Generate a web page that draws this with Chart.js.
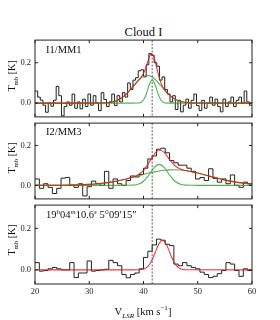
<!DOCTYPE html>
<html lang="en">
<head>
<meta charset="UTF-8" />
<title>Cloud I spectra</title>
<script src="https://cdn.jsdelivr.net/npm/chart.js"></script>
<style>
  * { margin: 0; padding: 0; box-sizing: border-box; }
  body {
    width: 280px; height: 320px; background: #fff;
    position: relative; overflow: hidden;
    font-family: 'Liberation Serif', 'DejaVu Serif', serif; color: #111;
  }
  canvas { position: absolute; left: 0; }
  .title { position: absolute; left: 35px; width: 217px; top: 25.5px; text-align: center; font-size: 12.5px; line-height: 1; }
  .tag { position: absolute; left: 46px; font-size: 10.5px; line-height: 1; white-space: nowrap; }
  .ylab, .xlab { position: absolute; font-size: 10px; line-height: 1; white-space: nowrap; }
  .ylab { left: 12px; transform: translate(-50%, -50%) rotate(-90deg); }
  .xlab { left: 143px; top: 312px; transform: translate(-50%, -50%); font-size: 10.5px; }
  sub, sup { font-size: 68%; line-height: 0; }
</style>
</head>
<body>
  <div class="title">Cloud I</div>

  <canvas id="p1" width="280" height="95" style="top:31px"></canvas>
  <canvas id="p2" width="280" height="94" style="top:114px"></canvas>
  <canvas id="p3" width="280" height="124" style="top:196px"></canvas>

  <div class="tag" style="top:44.5px">I1/MM1</div>
  <div class="tag" style="top:126.5px">I2/MM3</div>
  <div class="tag" style="top:209.5px">19<sup><i>h</i></sup>04<sup><i>m</i></sup>10.6<sup><i>s</i></sup> 5°09′15″</div>

  <div class="ylab" style="top:76px">T<sub>mb</sub> [K]</div>
  <div class="ylab" style="top:158px">T<sub>mb</sub> [K]</div>
  <div class="ylab" style="top:240px">T<sub>mb</sub> [K]</div>
  <div class="xlab">V<sub><i>LSR</i></sub> [km s<sup>−1</sup>]</div>

  <script>
    const X_MIN = 20, X_MAX = 60;
    const Y_MIN = -0.068, Y_MAX = 0.312;
    const X_TICKS = [20, 30, 40, 50, 60];
    const Y_TICKS = [0.0, 0.2];
    const V_REF = 41.6;

    // observed spectra: channel values from 20 km/s upward, fixed channel width
    const CHAN1 = 0.488;
    const SPEC1 = [0.06, 0.03, 0.015, -0.01, -0.045, 0, -0.015, 0.015, 0.083, 0.037,
      -0.063, -0.017, 0.006, -0.01, 0.045, -0.025, 0.006, -0.028, 0.02, -0.017,
      0.045, -0.01, 0.037, 0, -0.037, 0.052, 0.018, -0.017, 0.006, 0.045,
      -0.012, 0.037, 0.006, 0.052, 0.03, 0.1, 0.068, 0.114, 0.126, 0.16,
      0.165, 0.13, 0.19, 0.245, 0.237, 0.2, 0.183, 0.114, 0.13, 0.068,
      0.045, 0.006, 0.037, -0.032, 0.014, -0.043, -0.01, 0.02, -0.025, 0.014,
      0.045, -0.012, -0.037, 0.014, -0.025, 0, 0.03, -0.01, 0.02, -0.017,
      -0.043, 0.02, -0.017, 0.006, 0.03, -0.017, 0.014, 0.03, 0, 0.06,
      0.006, -0.01];
    const CHAN2 = 0.8;
    const SPEC2 = [0.032, -0.015, 0.008, -0.01, -0.041, -0.015, 0.036, 0.039, 0, -0.01,
      0.008, -0.053, -0.007, 0.021, 0.008, 0, 0.07, -0.015, 0.032, 0.008,
      0, 0.024, 0.047, 0.042, 0.055, 0.086, 0.132, 0.147, 0.181, 0.186,
      0.163, 0.124, 0.113, 0.101, 0.101, 0.086, 0.07, 0.032, 0.039, 0.024,
      0.083, 0.035, 0.016, 0.032, 0.008, 0.052, 0, -0.01, 0.016, 0.008];
    const CHAN3 = 0.8;
    const SPEC3 = [0.035, -0.006, -0.003, 0.005, 0.012, 0.005, 0, 0, 0.035, -0.037,
      -0.015, -0.015, 0.043, -0.006, -0.003, 0, 0.003, 0.046, 0.035, 0.02,
      -0.022, -0.038, -0.022, -0.015, 0.005, 0.06, 0.09, 0.12, 0.148, 0.143,
      0.123, 0.117, 0.028, 0.02, 0.035, 0.02, 0.012, 0.005, -0.011, -0.022,
      -0.037, -0.031, -0.018, -0.003, 0.035, 0.028, -0.003, -0.031, 0.005, -0.003];

    const FIT1_V = [20, 30, 32, 34, 35, 36, 37, 38, 39, 39.5, 40, 40.5, 41, 41.3, 41.6, 41.9, 42.2, 42.7, 43.2, 43.7, 44.5, 45.5, 46.5, 47.5, 49, 60];
    const FIT1_TOTAL = [0, 0, 0.0005, 0.0049, 0.0124, 0.0267, 0.0498, 0.08, 0.1112, 0.1268, 0.1475, 0.1809, 0.2222, 0.2397, 0.243, 0.2295, 0.2021, 0.1462, 0.1017, 0.074, 0.0473, 0.0249, 0.0114, 0.0045, 0.0008, 0];
    const FIT1_BROAD = [0, 0, 0.0005, 0.0049, 0.0124, 0.0267, 0.0498, 0.0799, 0.1106, 0.1232, 0.1321, 0.1366, 0.1361, 0.1334, 0.129, 0.1232, 0.116, 0.1019, 0.0863, 0.0704, 0.0471, 0.0249, 0.0114, 0.0045, 0.0008, 0];
    const FIT1_NARROW = [0, 0, 0, 0, 0, 0, 0, 0, 0.0006, 0.0036, 0.0154, 0.0443, 0.0861, 0.1063, 0.114, 0.1063, 0.0861, 0.0443, 0.0154, 0.0036, 0.0002, 0, 0, 0, 0, 0];

    const FIT2_V = [20, 25, 28, 30, 32, 34, 36, 37, 38, 39, 40, 41, 42, 42.9, 43.8, 44.8, 45.8, 46.8, 47.8, 49, 50, 52, 54, 56, 58, 60];
    const FIT2_TOTAL = [0, 0.0005, 0.0021, 0.0046, 0.009, 0.0163, 0.0268, 0.0333, 0.0411, 0.0527, 0.0748, 0.1133, 0.1572, 0.177, 0.1651, 0.1296, 0.0983, 0.0819, 0.0743, 0.0676, 0.0614, 0.0473, 0.0332, 0.0212, 0.0123, 0.0065];
    const FIT2_BROAD = [0, 0.0005, 0.0021, 0.0046, 0.009, 0.0163, 0.0268, 0.0332, 0.0401, 0.0473, 0.0545, 0.0614, 0.0675, 0.072, 0.0754, 0.0777, 0.078, 0.0765, 0.0733, 0.0675, 0.0614, 0.0473, 0.0332, 0.0212, 0.0123, 0.0065];
    const FIT2_NARROW = [0, 0, 0, 0, 0, 0, 0, 0.0001, 0.001, 0.0054, 0.0203, 0.0519, 0.0897, 0.105, 0.0897, 0.0519, 0.0203, 0.0054, 0.001, 0.0001, 0, 0, 0, 0, 0, 0];

    const FIT3_V = [20, 38, 38.9, 39.9, 40.4, 40.9, 41.4, 41.9, 42.4, 42.9, 43.5, 44.1, 44.6, 45.1, 45.6, 46.1, 46.6, 47.1, 48.1, 60];
    const FIT3_TOTAL = [0, 0, 0.0003, 0.0031, 0.0084, 0.0194, 0.0388, 0.0671, 0.1, 0.1286, 0.143, 0.1286, 0.1, 0.0671, 0.0388, 0.0194, 0.0084, 0.0031, 0.0003, 0];

    const RED = 'rgba(232, 24, 24, 0.85)';
    const GREEN = 'rgba(40, 160, 40, 0.8)';
    const BLACK = '#222';

    Chart.defaults.font.family = "'Liberation Serif', 'DejaVu Serif', serif";
    Chart.defaults.font.size = 8.5;
    Chart.defaults.color = '#222';

    function histogram(values, width) {
      const pts = values.map((t, i) => ({ x: X_MIN + i * width, y: t }));
      // right edge of the last channel
      pts.push({ x: X_MIN + values.length * width, y: values[values.length - 1] });
      return pts;
    }

    function curve(vs, ts) {
      return vs.map((v, i) => ({ x: v, y: ts[i] }));
    }

    const framePlugin = {
      id: 'frame',
      beforeDatasetsDraw(chart) {
        const { ctx, chartArea: a, scales: { x } } = chart;
        const px = x.getPixelForValue(V_REF);
        ctx.save();
        ctx.strokeStyle = '#333';
        ctx.lineWidth = 0.8;
        ctx.setLineDash([2, 1.5]);
        ctx.beginPath();
        ctx.moveTo(px, a.top);
        ctx.lineTo(px, a.bottom);
        ctx.stroke();
        ctx.restore();
      },
      afterDatasetsDraw(chart) {
        const { ctx, chartArea: a, scales: { x, y } } = chart;
        ctx.save();
        ctx.strokeStyle = '#222';
        ctx.lineWidth = 1;
        ctx.strokeRect(a.left, a.top, a.right - a.left, a.bottom - a.top);
        ctx.beginPath();
        X_TICKS.forEach(v => {
          const p = x.getPixelForValue(v);
          ctx.moveTo(p, a.bottom); ctx.lineTo(p, a.bottom - 3);
          ctx.moveTo(p, a.top); ctx.lineTo(p, a.top + 3);
        });
        Y_TICKS.forEach(v => {
          const p = y.getPixelForValue(v);
          ctx.moveTo(a.left, p); ctx.lineTo(a.left + 3, p);
          ctx.moveTo(a.right, p); ctx.lineTo(a.right - 3, p);
        });
        ctx.stroke();
        ctx.restore();
      }
    };

    function makePanel(id, datasets, showX) {
      new Chart(document.getElementById(id), {
        type: 'line',
        data: { datasets },
        options: {
          responsive: false,
          animation: false,
          events: [],
          layout: { padding: { left: 0, right: 28, top: 6, bottom: showX ? 0 : 6 } },
          plugins: { legend: { display: false }, tooltip: { enabled: false } },
          elements: { point: { radius: 0 }, line: { borderWidth: 1 } },
          scales: {
            x: {
              type: 'linear', min: X_MIN, max: X_MAX,
              display: showX,
              grid: { display: false, drawTicks: false },
              border: { display: false },
              ticks: { padding: 3, maxRotation: 0 },
              afterBuildTicks: s => { s.ticks = X_TICKS.map(v => ({ value: v })); },
              afterFit: s => { s.height = showX ? 36 : 0; }
            },
            y: {
              min: Y_MIN, max: Y_MAX,
              grid: { display: false, drawTicks: false },
              border: { display: false },
              ticks: { padding: 4, callback: v => v.toFixed(1) },
              afterBuildTicks: s => { s.ticks = Y_TICKS.map(v => ({ value: v })); },
              afterFit: s => { s.width = 35; }
            }
          }
        },
        plugins: [framePlugin]
      });
    }

    const fitLine = (data, color) => ({ data, borderColor: color, cubicInterpolationMode: 'monotone', borderWidth: 1.1 });
    const specLine = data => ({ data, borderColor: BLACK, stepped: 'before', borderWidth: 1 });

    makePanel('p1', [
      fitLine(curve(FIT1_V, FIT1_TOTAL), RED),
      fitLine(curve(FIT1_V, FIT1_BROAD), GREEN),
      fitLine(curve(FIT1_V, FIT1_NARROW), GREEN),
      specLine(histogram(SPEC1, CHAN1))
    ], false);

    makePanel('p2', [
      fitLine(curve(FIT2_V, FIT2_TOTAL), RED),
      fitLine(curve(FIT2_V, FIT2_BROAD), GREEN),
      fitLine(curve(FIT2_V, FIT2_NARROW), GREEN),
      specLine(histogram(SPEC2, CHAN2))
    ], false);

    makePanel('p3', [
      fitLine(curve(FIT3_V, FIT3_TOTAL), RED),
      specLine(histogram(SPEC3, CHAN3))
    ], true);
  </script>
</body>
</html>
